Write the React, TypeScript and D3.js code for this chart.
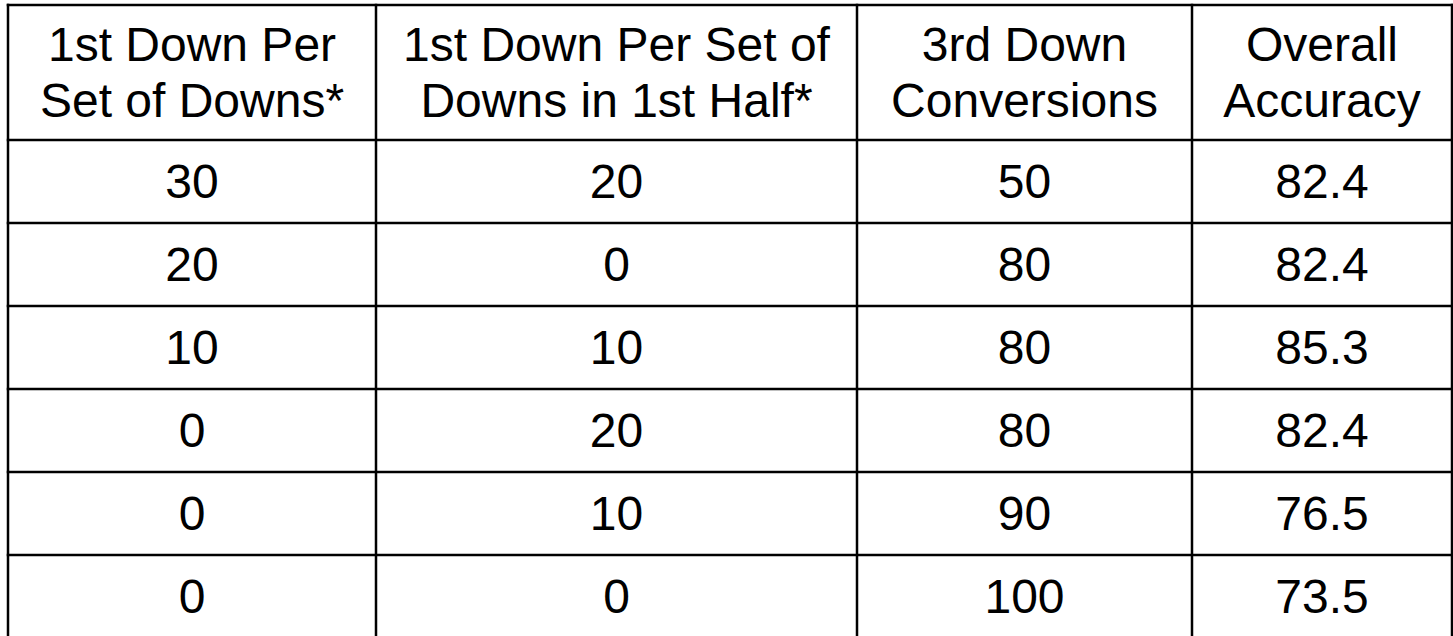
import * as d3 from "d3";
import * as React from "react";

// table contents
const headers: string[][] = [
  ["1st Down Per", "Set of Downs*"],
  ["1st Down Per Set of", "Downs in 1st Half*"],
  ["3rd Down", "Conversions"],
  ["Overall", "Accuracy"],
];
const firstDownPerSet = [30, 20, 10, 0, 0, 0];
const firstDownFirstHalf = [20, 0, 10, 20, 10, 0];
const thirdDownConversions = [50, 80, 80, 80, 90, 100];
const overallAccuracy = [82.4, 82.4, 85.3, 82.4, 76.5, 73.5];

const width = 1453;
const height = 636;
const colEdges = [8, 376, 857, 1192, 1452];
const tableTop = 5;
const headerBottom = 140;
const rowHeight = 83;
const fontSize = 48;
const lineGap = 56;
const stroke = 2.5;

export default function App() {
  const columns = [
    firstDownPerSet.map((d) => String(d)),
    firstDownFirstHalf.map((d) => String(d)),
    thirdDownConversions.map((d) => String(d)),
    overallAccuracy.map((d) => d.toFixed(1)),
  ];
  const nRows = firstDownPerSet.length;

  const y = d3.scaleLinear()
    .domain([0, nRows])
    .range([headerBottom, headerBottom + nRows * rowHeight]);
  const colMid = (i: number) => (colEdges[i] + colEdges[i + 1]) / 2;
  const headerMid = (tableTop + headerBottom) / 2;

  const hLines = [tableTop, ...d3.range(nRows + 1).map((i) => y(i))];

  return (
    <svg width={width} height={height} style={{ position: "absolute", left: 0, top: 0, background: "#fff" }}
      fontFamily="'Liberation Sans', Arial, sans-serif" fontSize={fontSize}>
      {headers.map((lines, ci) => (
        <g key={"h" + ci}>
          {lines.map((t, li) => (
            <text key={li} x={colMid(ci)} y={headerMid + (li - (lines.length - 1) / 2) * lineGap}
              textAnchor="middle" dominantBaseline="central" fill="#000">{t}</text>
          ))}
        </g>
      ))}
      {columns.map((col, ci) => col.map((v, ri) => (
        <text key={"c" + ci + "_" + ri} x={colMid(ci)} y={(y(ri) + y(ri + 1)) / 2}
          textAnchor="middle" dominantBaseline="central" fill="#000">{v}</text>
      )))}
      {hLines.map((ly, i) => (
        <line key={"hl" + i} x1={colEdges[0] - stroke / 2} x2={colEdges[colEdges.length - 1] + stroke / 2}
          y1={ly} y2={ly} stroke="#000" strokeWidth={stroke} />
      ))}
      {colEdges.map((lx, i) => (
        <line key={"vl" + i} x1={lx} x2={lx} y1={tableTop - stroke / 2} y2={y(nRows) + stroke / 2}
          stroke="#000" strokeWidth={stroke} />
      ))}
    </svg>
  );
}
